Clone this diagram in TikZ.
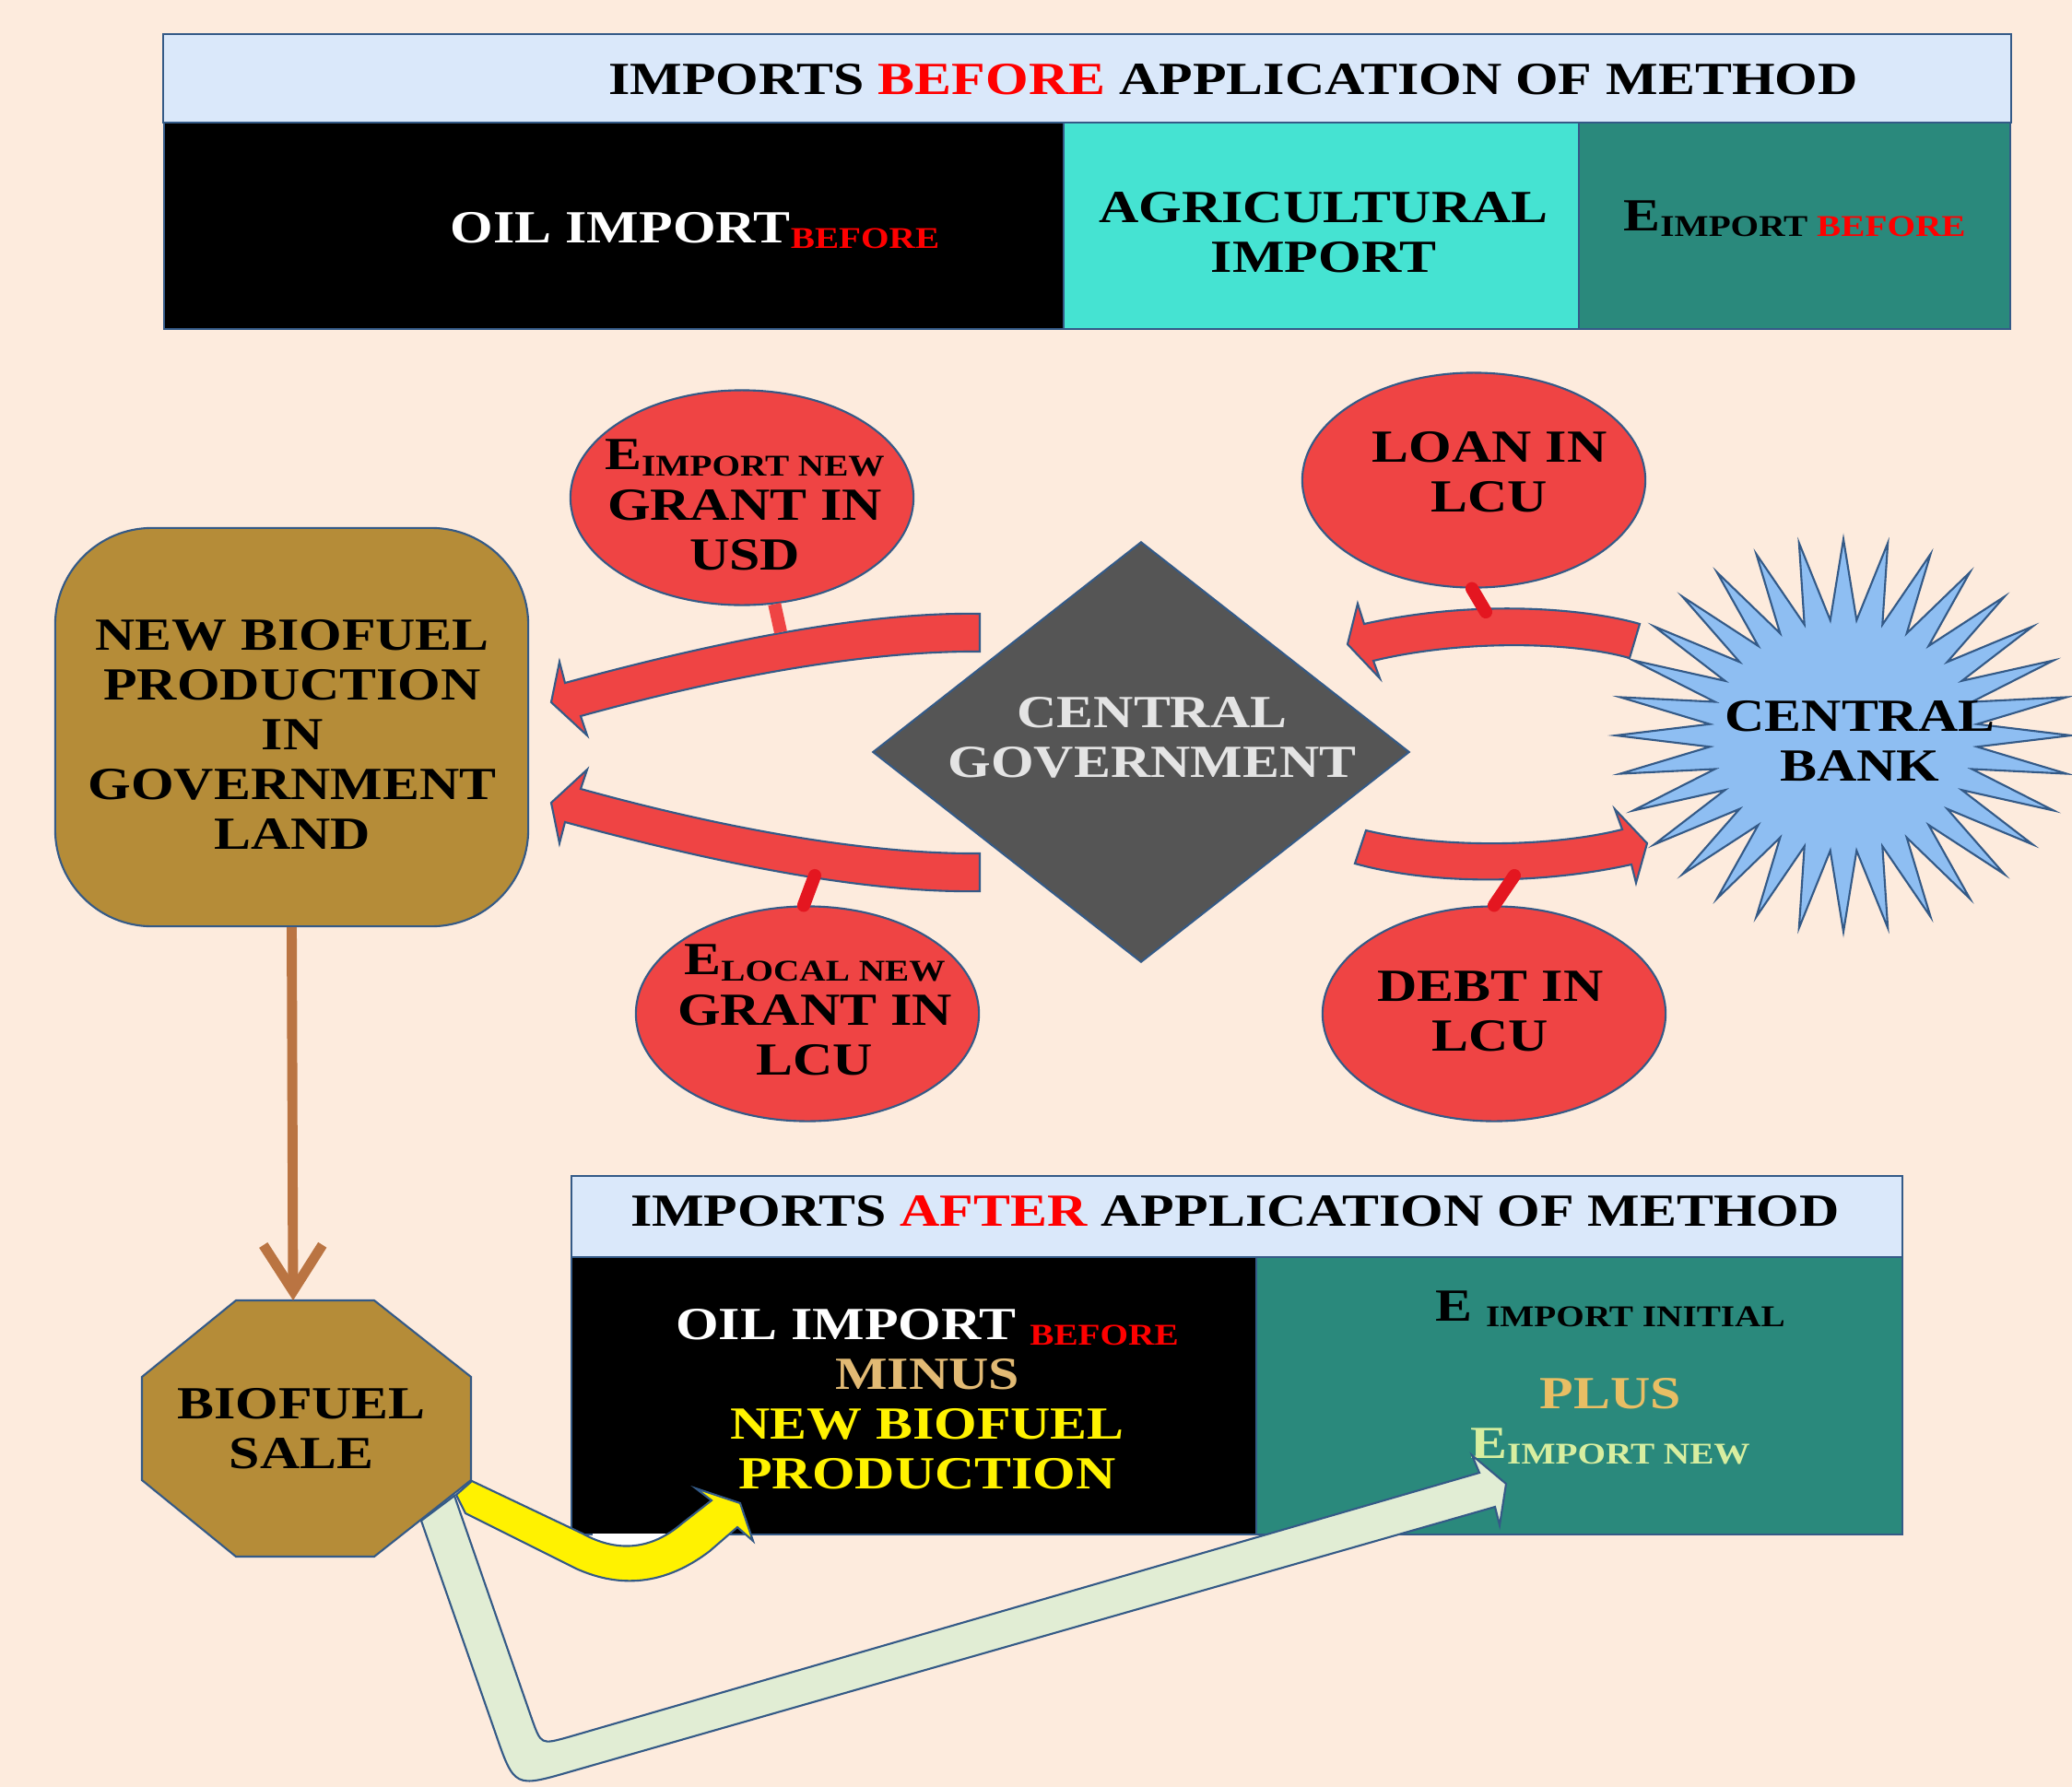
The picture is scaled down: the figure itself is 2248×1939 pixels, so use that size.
\documentclass[tikz,border=0pt]{standalone}
\usepackage{fontspec}
\setmainfont{Liberation Serif}[FakeStretch=1.2]
\usetikzlibrary{shapes.geometric,arrows.meta}
\definecolor{peach}{RGB}{253,235,221}
\definecolor{edge}{RGB}{52,90,135}
\definecolor{hdrblue}{RGB}{218,232,250}
\definecolor{turq}{RGB}{69,227,210}
\definecolor{deepteal}{RGB}{42,137,124}
\definecolor{redfill}{RGB}{239,68,68}
\definecolor{barred}{RGB}{228,22,32}
\definecolor{slate}{RGB}{85,85,85}
\definecolor{skyblue}{RGB}{142,190,242}
\definecolor{ochre}{RGB}{181,140,56}
\definecolor{rust}{RGB}{186,116,66}
\definecolor{mint}{RGB}{225,237,212}
\definecolor{minustan}{RGB}{226,186,116}
\definecolor{plusgold}{RGB}{232,190,100}
\definecolor{limetxt}{RGB}{216,238,160}
\definecolor{paletxt}{RGB}{228,228,228}
\newcommand{\lowtxt}[1]{\raisebox{-1.8pt}{\fontsize{9.3}{9.3}\selectfont #1}}

\begin{document}
\begin{tikzpicture}[x=0.01cm,y=-0.01cm,
	txt/.style={font=\fontsize{14.2}{15.4}\selectfont\bfseries,align=center,inner sep=0pt},
	panel/.style={draw=edge,line width=0.6pt,inner sep=0pt},
	bubble/.style={ellipse,draw=edge,line width=0.6pt,fill=redfill,minimum width=3.72cm,minimum height=2.33cm,inner sep=0pt},
	band/.style={draw=edge,line width=0.6pt,fill=redfill},
	redbar/.style={draw=barred,line width=4pt,line cap=round}]
	\fill[peach] (0,0) rectangle (2248,1939);
	\useasboundingbox (0,0) rectangle (2248,1939);

	% imports before
	\node[panel,fill=hdrblue,minimum width=20.03cm,minimum height=0.96cm] (hdrA) at (1179.5,85) {};
	\node[panel,fill=black,minimum width=9.76cm,minimum height=2.24cm] (oilA) at (666,245) {};
	\node[panel,fill=turq,minimum width=5.59cm,minimum height=2.24cm] (agri) at (1433.5,245) {};
	\node[panel,fill=deepteal,minimum width=4.68cm,minimum height=2.24cm] (eimpA) at (1947,245) {};
	\node[txt] (hdrAtxt) at (1338,86.5) {IMPORTS {\color{red}BEFORE} APPLICATION OF METHOD};
	\node[txt] (oilAtxt) at (754,250) {{\color{white}OIL IMPORT}\lowtxt{\color{red}BEFORE}};
	\node[txt] (agritxt) at (1436,252) {AGRICULTURAL\\IMPORT};
	\node[txt] (eimpAtxt) at (1947,237) {E\lowtxt{IMPORT {\color{red}BEFORE}}};

	% imports after
	\node[panel,fill=hdrblue,minimum width=14.44cm,minimum height=0.88cm] (hdrB) at (1342,1320) {};
	\node[panel,fill=black,minimum width=7.43cm,minimum height=3.01cm] (oilB) at (991.5,1514.5) {};
	\node[panel,fill=deepteal,minimum width=7.01cm,minimum height=3.01cm] (eimpB) at (1713.5,1514.5) {};
	\node[txt] (hdrBtxt) at (1340,1314) {IMPORTS {\color{red}AFTER} APPLICATION OF METHOD};
	\node[txt] (oilBtxt) at (1006,1518) {{\color{white}OIL IMPORT }\lowtxt{\color{red}BEFORE}\\{\color{minustan}MINUS}\\{\color{yellow}NEW BIOFUEL}\\{\color{yellow}PRODUCTION}};
	\node[txt] (eimpBtxt) at (1747,1495) {E \lowtxt{IMPORT INITIAL}\\[11.5pt]{\color{plusgold}PLUS}\\{\color{limetxt}E\lowtxt{IMPORT NEW}}};

	% sale arrows
	\fill[white] (643,1664) rectangle (722,1690);
	\draw[draw=edge,line width=0.6pt,fill=mint] (493,1623) -- (577,1865) .. controls (587,1893) .. (616,1885) -- (1605,1598) -- (1597,1579) -- (1634,1610) -- (1627,1655) -- (1622,1635) -- (620,1922) .. controls (558,1940) .. (537,1879) -- (457,1650) -- cycle;
	\draw[draw=edge,line width=0.6pt,fill=yellow] (512,1607) -- (632,1664) .. controls (668,1684) and (705,1683) .. (740,1653) -- (772,1628) -- (755,1615) -- (803,1631) -- (817,1672) -- (800,1657) -- (770,1683) .. controls (715,1725) and (665,1720) .. (625,1702) -- (505,1642) -- (495,1622) -- cycle;

	\draw[draw=edge,line width=0.6pt,fill=ochre] (256,1411) -- (406,1411) -- (511,1494) -- (511,1606) -- (406,1689) -- (256,1689) -- (154,1606) -- (154,1494) -- cycle;
	\node[txt] (sale) at (327,1550) {BIOFUEL\\SALE};
	\coordinate (saletop) at (318,1411);

	\node[panel,fill=ochre,rounded corners=1.05cm,minimum width=5.13cm,minimum height=4.32cm] (biobox) at (316.5,789) {};
	\node[txt] (bioboxtxt) at (317,797) {NEW BIOFUEL\\PRODUCTION\\IN\\GOVERNMENT\\LAND};
	\draw[rust,line width=3.1pt,-{Straight Barb[length=0.5cm,width=0.64cm]}] (biobox.south) -- (saletop);

	% government and bank
	\node[diamond,draw=edge,line width=0.6pt,fill=slate,minimum width=5.82cm,minimum height=4.56cm,inner sep=0pt] (gov) at (1238,816) {};
	\node[txt,text=paletxt] (govtxt) at (1250,800) {CENTRAL\\GOVERNMENT};
	\draw[draw=edge,line width=0.6pt,fill=skyblue] plot[samples at={0,...,63},variable=\k] ({2000+247*(0.795+0.205*cos(180*\k))*cos(5.625*\k)},{798+213*(0.795+0.205*cos(180*\k))*sin(5.625*\k)}) -- cycle;
	\node[txt] (bank) at (2018,804) {CENTRAL\\BANK};

	\node[bubble] (eimp) at (805,540) {};
	\node[bubble] (eloc) at (876,1100) {};
	\node[bubble] (loan) at (1599,521) {};
	\node[bubble] (debt) at (1621,1100) {};
	\node[txt] (eimptxt) at (808,548) {E\lowtxt{IMPORT NEW}\\GRANT IN\\USD};
	\node[txt] (eloctxt) at (884,1096) {E\lowtxt{LOCAL NEW}\\GRANT IN\\LCU};
	\node[txt] (loantxt) at (1616,512) {LOAN IN\\LCU};
	\node[txt] (debttxt) at (1617,1097) {DEBT IN\\LCU};

	\draw[band] (1063,666) .. controls (950,664) and (800,690) .. (613,741) -- (607,718) -- (598,762) -- (637,798) -- (630,777) .. controls (800,730) and (950,706) .. (1063,707) -- cycle;
	\draw[band] (1063,967) .. controls (950,969) and (800,943) .. (613,892) -- (607,915) -- (598,871) -- (637,835) -- (630,856) .. controls (800,903) and (950,927) .. (1063,926) -- cycle;
	\draw[band] (1779,677) .. controls (1720,660) and (1600,650) .. (1480,677) -- (1473,655) -- (1462,699) -- (1497,736) -- (1490,717) .. controls (1580,695) and (1700,695) .. (1768,714) -- cycle;
	\draw[band] (1482,901) .. controls (1560,920) and (1680,920) .. (1760,900) -- (1752,878) -- (1787,915) -- (1775,958) -- (1770,938) .. controls (1680,958) and (1560,962) .. (1470,937) -- cycle;

	\coordinate (tkA) at (847,686);
	\coordinate (tkB) at (884,950);
	\coordinate (tkC) at (1612,664);
	\coordinate (tkD) at (1643,950);
	\draw[redbar,draw=redfill,line cap=butt] (eimp.-73) -- (tkA);
	\draw[redbar] (tkB) -- (eloc.92);
	\draw[redbar] (loan.-91) -- (tkC);
	\draw[redbar] (tkD) -- (debt.90);
\end{tikzpicture}
\end{document}
